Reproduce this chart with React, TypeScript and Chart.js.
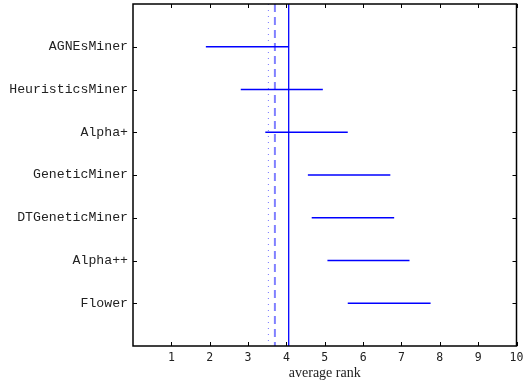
import React, { useEffect, useRef } from "react";
import { Chart, registerables } from "chart.js";
Chart.register(...registerables);

const methods = ["AGNEsMiner", "HeuristicsMiner", "Alpha+", "GeneticMiner", "DTGeneticMiner", "Alpha++", "Flower"];
const lowerRank = [1.9, 2.81, 3.45, 4.56, 4.66, 5.07, 5.6];
const upperRank = [4.06, 4.95, 5.6, 6.71, 6.81, 7.21, 7.76];
const solidLine = 4.06;
const dashedLine = 3.7;
const dottedLine = 3.53;
const xTicks = [1, 2, 3, 4, 5, 6, 7, 8, 9, 10];

const BLUE = "rgb(0,0,255)";

const boxPlugin = {
  id: "boxTicks",
  afterDraw(chart: any) {
    const { ctx, chartArea: a, scales } = chart;
    const x = scales.x, y = scales.y;
    ctx.save();
    ctx.strokeStyle = "#000";
    ctx.lineWidth = 1.5;
    ctx.strokeRect(a.left, a.top, a.right - a.left, a.bottom - a.top);
    ctx.lineWidth = 1;
    ctx.beginPath();
    xTicks.forEach((v) => {
      const px = Math.round(x.getPixelForValue(v)) + 0.5;
      ctx.moveTo(px, a.bottom);
      ctx.lineTo(px, a.bottom - 4);
      ctx.moveTo(px, a.top);
      ctx.lineTo(px, a.top + 4);
    });
    methods.forEach((_, i) => {
      const py = Math.round(y.getPixelForValue(i + 1)) + 0.5;
      ctx.moveTo(a.left, py);
      ctx.lineTo(a.left + 4, py);
      ctx.moveTo(a.right, py);
      ctx.lineTo(a.right - 4, py);
    });
    ctx.stroke();
    ctx.restore();
  },
};

export default function App() {
  const ref = useRef<HTMLCanvasElement>(null);
  useEffect(() => {
    document.body.style.margin = "0";
    const intervals = methods.map((m, i) => ({
      label: m,
      data: [
        { x: lowerRank[i], y: i + 1 },
        { x: upperRank[i], y: i + 1 },
      ],
      borderColor: BLUE,
      borderWidth: 1.3,
      pointRadius: 0,
      showLine: true,
    }));
    const vline = (v: number, dash: number[], color: string, w: number) => ({
      label: "ref" + v,
      data: [
        { x: v, y: 0 },
        { x: v, y: 8 },
      ],
      borderColor: color,
      borderWidth: w,
      borderDash: dash,
      pointRadius: 0,
      showLine: true,
    });
    const chart = new Chart(ref.current!, {
      type: "scatter",
      data: {
        datasets: [
          ...intervals,
          vline(solidLine, [], BLUE, 1.3),
          vline(dashedLine, [8, 5], "rgba(60,60,255,0.65)", 2),
          vline(dottedLine, [1, 5], "rgba(60,60,255,0.7)", 1),
        ] as any,
      },
      options: {
        animation: false,
        responsive: false,
        layout: { padding: { left: 0, top: 4, right: 8.5, bottom: 0 } },
        plugins: { legend: { display: false }, tooltip: { enabled: false } },
        scales: {
          x: {
            type: "linear",
            min: 0,
            max: 10,
            afterBuildTicks: (s: any) => {
              s.ticks = xTicks.map((v) => ({ value: v }));
            },
            afterFit: (s: any) => {
              s.height = 37;
              s.paddingLeft = 0;
              s.paddingRight = 0;
            },
            grid: { display: false, drawTicks: false },
            border: { display: false },
            ticks: {
              padding: 5,
              color: "#222",
              font: { family: "DejaVu Sans Mono", size: 11.5 },
              callback: (v: any) => String(v),
            },
            title: {
              display: true,
              text: "average rank",
              color: "#222",
              font: { family: "Liberation Serif", size: 14 },
              padding: { top: 0, bottom: 1 },
            },
          },
          y: {
            type: "linear",
            min: 0,
            max: 8,
            reverse: true,
            afterBuildTicks: (s: any) => {
              s.ticks = methods.map((_, i) => ({ value: i + 1 }));
            },
            afterFit: (s: any) => {
              s.width = 133;
              s.paddingTop = 0;
              s.paddingBottom = 0;
            },
            grid: { display: false, drawTicks: false },
            border: { display: false },
            ticks: {
              padding: 5,
              color: "#222",
              font: { family: "Liberation Mono", size: 13.2 },
              callback: (v: any) => methods[Number(v) - 1] ?? "",
            },
          },
        },
      },
      plugins: [boxPlugin],
    });
    return () => chart.destroy();
  }, []);
  return <canvas ref={ref} width={525} height={383} style={{ display: "block" }} />;
}
